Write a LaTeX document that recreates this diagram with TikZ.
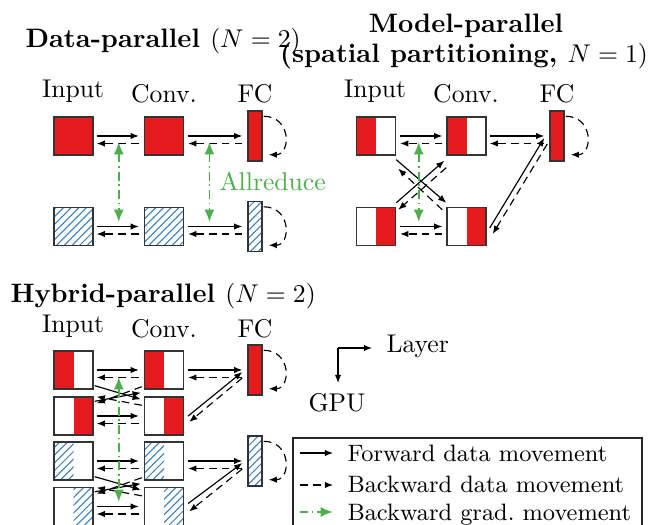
\documentclass[tikz,border=0pt]{standalone}
\usetikzlibrary{arrows.meta,patterns,calc}
\definecolor{setred}{RGB}{228,26,28}
\definecolor{setblue}{RGB}{55,126,184}
\definecolor{setgreen}{RGB}{77,175,74}
\newcommand\hpair[4]{%
  \draw[fwd] ($(#1.east)+(#3,0)$) -- ($(#2.west)+(-#4,0)$);
  \draw[bwd] ($(#2.west)+(-#4,7.5)$) -- ($(#1.east)+(#3,7.5)$);}
\newcommand\selfloop[1]{%
  \draw[bwd] ($(#1.north east)+(1,6)$) .. controls +(28,0) and +(22,0) .. ($(#1.south east)+(6,-7)$);}
\newcommand\xcross[4]{%
  \draw[fwd] ($(#1.south east)+(1,-4)$) -- ($(#4.north west)+(-3,3)$);
  \draw[bwd] ($(#4.north west)+(-2,9)$) -- ($(#1.south east)+(3,7)$);
  \draw[fwd] ($(#2.north east)+(1,5)$) -- ($(#3.south west)+(-3,3)$);
  \draw[bwd] ($(#3.south west)+(-2,-3)$) -- ($(#2.north east)+(3,7)$);}
\begin{document}
\begin{tikzpicture}[x=0.39pt,y=-0.39pt,
  blk/.style={draw=black!80,line width=0.55pt,inner sep=0pt,minimum width=15.2pt,minimum height=14.8pt},
  fcbar/.style={draw=black!80,line width=0.55pt,inner sep=0pt,minimum width=5.5pt,minimum height=19.5pt},
  redfull/.style={fill=setred},
  hatchfull/.style={pattern=north east lines,pattern color=setblue},
  redleft/.style={path picture={\fill[setred] (path picture bounding box.south west) rectangle (path picture bounding box.north);}},
  redright/.style={path picture={\fill[setred] (path picture bounding box.south) rectangle (path picture bounding box.north east);}},
  hatchleft/.style={path picture={\fill[pattern=north east lines,pattern color=setblue] (path picture bounding box.south west) rectangle (path picture bounding box.north);}},
  hatchright/.style={path picture={\fill[pattern=north east lines,pattern color=setblue] (path picture bounding box.south) rectangle (path picture bounding box.north east);}},
  fwd/.style={line width=0.45pt,-{Latex[length=3.2pt,width=2.5pt]}},
  bwd/.style={fwd,dash pattern=on 3pt off 2pt},
  grad/.style={setgreen,line width=0.7pt,dash pattern=on 3.5pt off 1.5pt on 0.6pt off 1.5pt,{Latex[length=4.8pt,width=3.9pt]}-{Latex[length=4.8pt,width=3.9pt]}},
  gradone/.style={setgreen,line width=0.7pt,dash pattern=on 3pt off 1.5pt on 0.6pt off 1.5pt,-{Latex[length=4.8pt,width=3.9pt]}},
  lbl/.style={anchor=base,inner sep=0pt},
  ttl/.style={anchor=base,inner sep=0pt,font=\fontsize{10.4pt}{12.5pt}\selectfont\bfseries},
  leg/.style={anchor=base west,inner sep=0pt,font=\fontsize{9.25pt}{11pt}\selectfont},
]
\useasboundingbox (0,0) rectangle (650,525);

% ---------- Data-parallel ----------
\node[ttl,anchor=base west] (tdp) at (25,48) {Data-parallel \mdseries$(N=2)$};
\node[lbl] (dlI) at (73,98) {Input};
\node[lbl] (dlC) at (164,103) {Conv.};
\node[lbl] (dlF) at (255,103) {FC};
\node[blk,redfull] (dI1) at (73.5,136) {};
\node[blk,redfull] (dC1) at (164,136) {};
\node[fcbar,redfull] (dF1) at (255,136) {};
\node[blk,hatchfull] (dI2) at (73.5,226.5) {};
\node[blk,hatchfull] (dC2) at (164,226.5) {};
\node[fcbar,hatchfull] (dF2) at (255,226.5) {};
\hpair{dI1}{dC1}{3}{5}
\hpair{dC1}{dF1}{4}{5}
\hpair{dI2}{dC2}{3}{5}
\hpair{dC2}{dF2}{4}{5}
\selfloop{dF1}
\selfloop{dF2}
\draw[grad] ($(dI1.east)!0.5!(dC1.west)+(0,6)$) -- ($(dI2.east)!0.5!(dC2.west)+(0,-4.5)$);
\draw[grad] ($(dC1.east)!0.4!(dF1.west)+(0,6)$) -- ($(dC2.east)!0.4!(dF2.west)+(0,-4.5)$);
\node[anchor=base west,inner sep=0pt,text=setgreen] (allr) at (219,191) {Allreduce};

% ---------- Model-parallel ----------
\node[ttl] (tmp1) at (466,33) {Model-parallel};
\node[ttl] (tmp2) at (464,63) {(spatial partitioning, \mdseries$N=1)$};
\node[lbl] (mlI) at (375,98) {Input};
\node[lbl] (mlC) at (466,103) {Conv.};
\node[lbl] (mlF) at (557,103) {FC};
\node[blk,redleft] (mI1) at (376,136) {};
\node[blk,redleft] (mC1) at (466.5,136) {};
\node[fcbar,redfull] (mF) at (557,136) {};
\node[blk,redright] (mI2) at (376,226.5) {};
\node[blk,redright] (mC2) at (466.5,226.5) {};
\hpair{mI1}{mC1}{4}{4}
\hpair{mC1}{mF}{3}{5}
\hpair{mI2}{mC2}{4}{4}
\draw[fwd] ($(mI1.south east)+(0,4)$) -- ($(mC2.north west)+(0,-4)$);
\draw[bwd] ($(mC2.north west)+(-4,3)$) -- ($(mI1.south east)+(2,13)$);
\draw[fwd] ($(mI2.north east)+(0,-4)$) -- ($(mC1.south west)+(-2,5)$);
\draw[bwd] ($(mC1.south west)+(0,12)$) -- ($(mI2.north east)+(2,3)$);
\draw[fwd] ($(mC2.east)+(3,1.5)$) -- ($(mF.west)+(-5,2)$);
\draw[bwd] ($(mF.west)+(-2,8)$) -- ($(mC2.east)+(6,7.5)$);
\selfloop{mF}
\draw[grad] ($(mI1.east)!0.45!(mC1.west)+(0,6)$) -- ($(mI2.east)!0.45!(mC2.west)+(0,-4.5)$);

% ---------- Hybrid-parallel ----------
\node[ttl,anchor=base west] (thp) at (10,303) {Hybrid-parallel \mdseries$(N=2)$};
\node[lbl] (hlI) at (73,333) {Input};
\node[lbl] (hlC) at (164,338) {Conv.};
\node[lbl] (hlF) at (255,338) {FC};
\node[blk,redleft] (hI1) at (73.5,370) {};
\node[blk,redleft] (hC1) at (164,370) {};
\node[blk,redright] (hI2) at (73.5,416) {};
\node[blk,redright] (hC2) at (164,416) {};
\node[blk,hatchleft] (hI3) at (73.5,461) {};
\node[blk,hatchleft] (hC3) at (164,461) {};
\node[blk,hatchright] (hI4) at (73.5,506.5) {};
\node[blk,hatchright] (hC4) at (164,506.5) {};
\node[fcbar,redfull] (hF1) at (255,370) {};
\node[fcbar,hatchfull] (hF2) at (255,461) {};
\hpair{hI1}{hC1}{3}{5}
\hpair{hI2}{hC2}{3}{5}
\hpair{hI3}{hC3}{3}{5}
\hpair{hI4}{hC4}{3}{5}
\hpair{hC1}{hF1}{4}{5}
\hpair{hC3}{hF2}{4}{5}
\draw[fwd] ($(hC2.east)+(4,0)$) -- ($(hF1.west)+(-5,2)$);
\draw[bwd] ($(hF1.west)+(-5,8)$) -- ($(hC2.east)+(5,6)$);
\draw[fwd] ($(hC4.east)+(4,-3)$) -- ($(hF2.west)+(-5,2)$);
\draw[bwd] ($(hF2.west)+(-5,8)$) -- ($(hC4.east)+(5,5)$);
\xcross{hI1}{hI2}{hC1}{hC2}
\xcross{hI3}{hI4}{hC3}{hC4}
\selfloop{hF1}
\selfloop{hF2}
\draw[grad] ($(hI1.east)!0.5!(hC1.west)+(0,7)$) -- ($(hI4.east)!0.5!(hC4.west)+(0,-4.5)$);

% ---------- Axes ----------
\coordinate (ax) at (338,348);
\coordinate (axr) at (372,348);
\coordinate (axd) at (338,383);
\draw[line width=0.45pt,-{Latex[length=3.2pt,width=2.5pt]}] (axr -| ax) -- (axr);
\draw[line width=0.45pt,-{Latex[length=3.2pt,width=2.5pt]}] (ax) -- (axd);
\node[anchor=base west,inner sep=0pt] (layer) at (386,353) {Layer};
\node[lbl] (gpu) at (337,412) {GPU};

% ---------- Legend ----------
\draw[black!85,line width=0.55pt] (293,438) rectangle (642,545);
\coordinate (l1a) at (300,453); \coordinate (l1b) at (333,453);
\coordinate (l2a) at (300,485); \coordinate (l2b) at (333,485);
\coordinate (l3a) at (300,512); \coordinate (l3b) at (333,512);
\draw[fwd] (l1a) -- (l1b);
\draw[bwd] (l2a) -- (l2b);
\draw[gradone] (l3a) -- (l3b);
\node[leg] (t1) at (347,462) {Forward data movement};
\node[leg] (t2) at (347,493) {Backward data movement};
\node[leg] (t3) at (347,520) {Backward grad.\ movement};
\end{tikzpicture}
\end{document}
